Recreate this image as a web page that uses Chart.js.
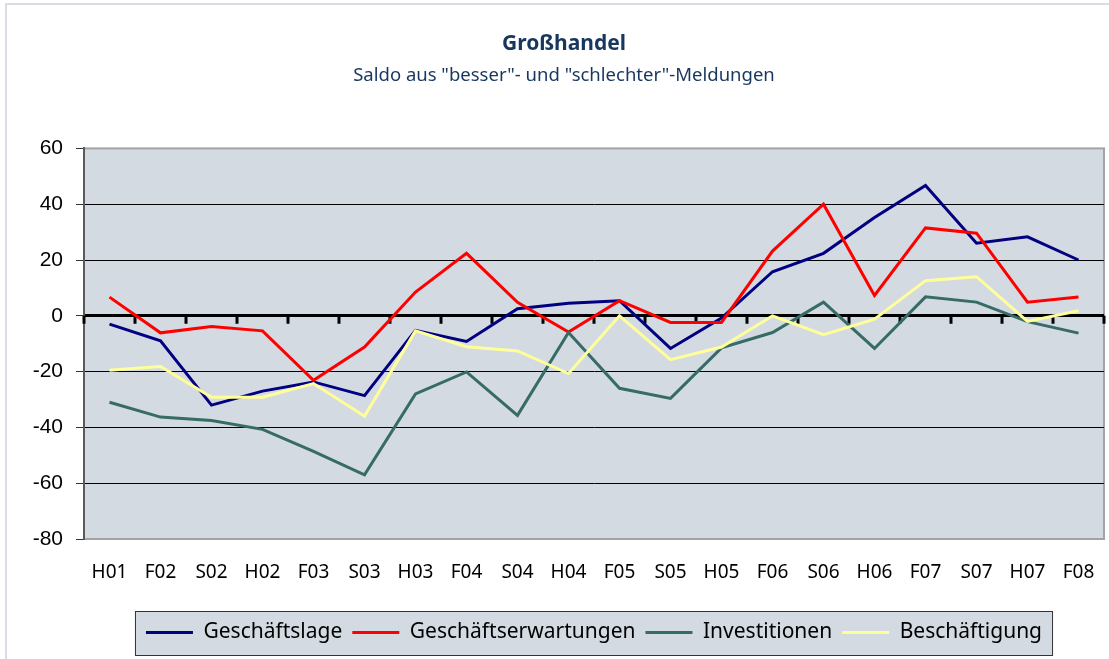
<!DOCTYPE html>
<html>
<head>
<meta charset="utf-8">
<script src="https://cdn.jsdelivr.net/npm/chart.js@4"></script>
<style>
  body { margin: 0; background: #fff; }
  canvas { display: block; }
</style>
</head>
<body>
<canvas id="chart" width="1109" height="659"></canvas>
<script>
const categories = ['H01', 'F02', 'S02', 'H02', 'F03', 'S03', 'H03', 'F04', 'S04', 'H04',
  'F05', 'S05', 'H05', 'F06', 'S06', 'H06', 'F07', 'S07', 'H07', 'F08'];

const geschaeftslage = [-3, -9, -32, -27, -23.7, -28.6, -5.2, -9.2, 2.5, 4.5,
  5.4, -11.7, -0.8, 15.8, 22.4, 35.2, 46.7, 26, 28.3, 20];
const erwartungen = [6.7, -6.1, -3.8, -5.4, -23.1, -11.2, 8.5, 22.4, 4.8, -5.8,
  5.4, -2.4, -2.4, 23.2, 40, 7.3, 31.5, 29.6, 4.9, 6.7];
const investitionen = [-31, -36.3, -37.5, -40.7, -48.6, -57, -28, -20.1, -35.7, -6,
  -26, -29.6, -11.5, -6, 4.9, -11.7, 6.8, 4.9, -2.1, -6.2];
const beschaeftigung = [-19.5, -18.2, -29.2, -29.2, -24.3, -36, -5.4, -11.1, -12.6, -20.7,
  0, -15.7, -11.2, 0, -6.8, -1.2, 12.6, 14, -2, 1.8];

const yTicks = { min: -80, max: 60, step: 20 };

const plotBg = '#d4dae2';

function series(label, data, color, order) {
  return {
    label: label,
    data: data,
    borderColor: color,
    backgroundColor: color,
    borderWidth: 3,
    pointRadius: 0,
    tension: 0,
    order: order
  };
}

const framePlugin = {
  id: 'frame',
  beforeDraw(chart) {
    const { ctx, chartArea: a, legend } = chart;
    ctx.save();
    // outer frame (top and left edges)
    ctx.fillStyle = '#d9dee6';
    ctx.fillRect(5, 3, chart.width - 5, 2);
    ctx.fillRect(5, 3, 2, chart.height - 3);
    // plot area
    ctx.fillStyle = plotBg;
    ctx.fillRect(a.left, a.top, a.right - a.left, a.bottom - a.top);
    ctx.strokeStyle = '#a3a3a3';
    ctx.lineWidth = 2;
    ctx.strokeRect(a.left, a.top, a.right - a.left, a.bottom - a.top);
    // legend box
    const hb = legend.legendHitBoxes;
    if (hb && hb.length) {
      const l = Math.min(...hb.map(b => b.left)) - 11;
      const r = Math.max(...hb.map(b => b.left + b.width)) + 10;
      const t = Math.min(...hb.map(b => b.top)) - 11;
      const btm = Math.max(...hb.map(b => b.top + b.height)) + 12;
      ctx.fillStyle = plotBg;
      ctx.fillRect(l, t, r - l, btm - t);
      ctx.strokeStyle = '#333';
      ctx.lineWidth = 1;
      ctx.strokeRect(l + 0.5, t + 0.5, r - l, btm - t);
    }
    ctx.restore();
  },
  beforeDatasetsDraw(chart) {
    // tick marks hanging below the zero line
    const { ctx, scales: { x, y } } = chart;
    const y0 = y.getPixelForValue(0);
    ctx.save();
    ctx.strokeStyle = '#000';
    ctx.lineWidth = 3;
    ctx.beginPath();
    for (let i = 0; i <= categories.length; i++) {
      const px = x.getPixelForValue(i - 0.5);
      ctx.moveTo(px, y0);
      ctx.lineTo(px, y0 + 8);
    }
    ctx.stroke();
    ctx.restore();
  }
};

new Chart(document.getElementById('chart'), {
  type: 'line',
  data: {
    labels: categories,
    datasets: [
      series('Geschäftslage', geschaeftslage, '#000080', 3),
      series('Geschäftserwartungen', erwartungen, '#ff0000', 2),
      series('Investitionen', investitionen, '#366b66', 1),
      series('Beschäftigung', beschaeftigung, '#ffff99', 0)
    ]
  },
  options: {
    responsive: false,
    animation: false,
    devicePixelRatio: 1,
    layout: { padding: { top: 0, left: 24, right: 5, bottom: 6 } },
    plugins: {
      title: {
        display: true,
        text: 'Großhandel',
        color: '#17375e',
        font: { family: 'Noto Sans', size: 21, weight: 'bold' },
        padding: { top: 31, bottom: 6 }
      },
      subtitle: {
        display: true,
        text: 'Saldo aus "besser"- und "schlechter"-Meldungen',
        color: '#17375e',
        font: { family: 'Noto Sans', size: 18.5 },
        padding: { top: 2, bottom: 62 }
      },
      legend: {
        position: 'bottom',
        fullSize: false,
        labels: {
          usePointStyle: true,
          pointStyle: 'line',
          pointStyleWidth: 47,
          padding: 10,
          color: '#000',
          font: { family: 'Noto Sans', size: 21 },
          sort: (a, b) => a.datasetIndex - b.datasetIndex
        }
      },
      tooltip: { enabled: false }
    },
    scales: {
      x: {
        offset: true,
        grid: { display: false, drawTicks: false },
        border: { display: false },
        ticks: {
          color: '#000',
          padding: 22,
          maxRotation: 0,
          autoSkip: false,
          font: { family: 'Noto Sans', size: 19 }
        },
        afterFit: scale => {
          scale.height = 73;
          scale.paddingLeft = 0;
          scale.paddingRight = 0;
        }
      },
      y: {
        min: yTicks.min,
        max: yTicks.max,
        ticks: {
          stepSize: yTicks.step,
          color: '#000',
          padding: 13,
          font: { family: 'Liberation Sans', size: 21 }
        },
        grid: {
          color: c => (c.tick.value === yTicks.min || c.tick.value === yTicks.max) ? 'rgba(0,0,0,0)' : '#000',
          lineWidth: c => c.tick.value === 0 ? 3 : 1,
          tickColor: '#333',
          tickLength: 8,
          tickWidth: 1
        },
        border: { color: '#5a5a5a', width: 2 },
        afterFit: scale => { scale.width = 60; }
      }
    }
  },
  plugins: [framePlugin]
});
</script>
</body>
</html>
